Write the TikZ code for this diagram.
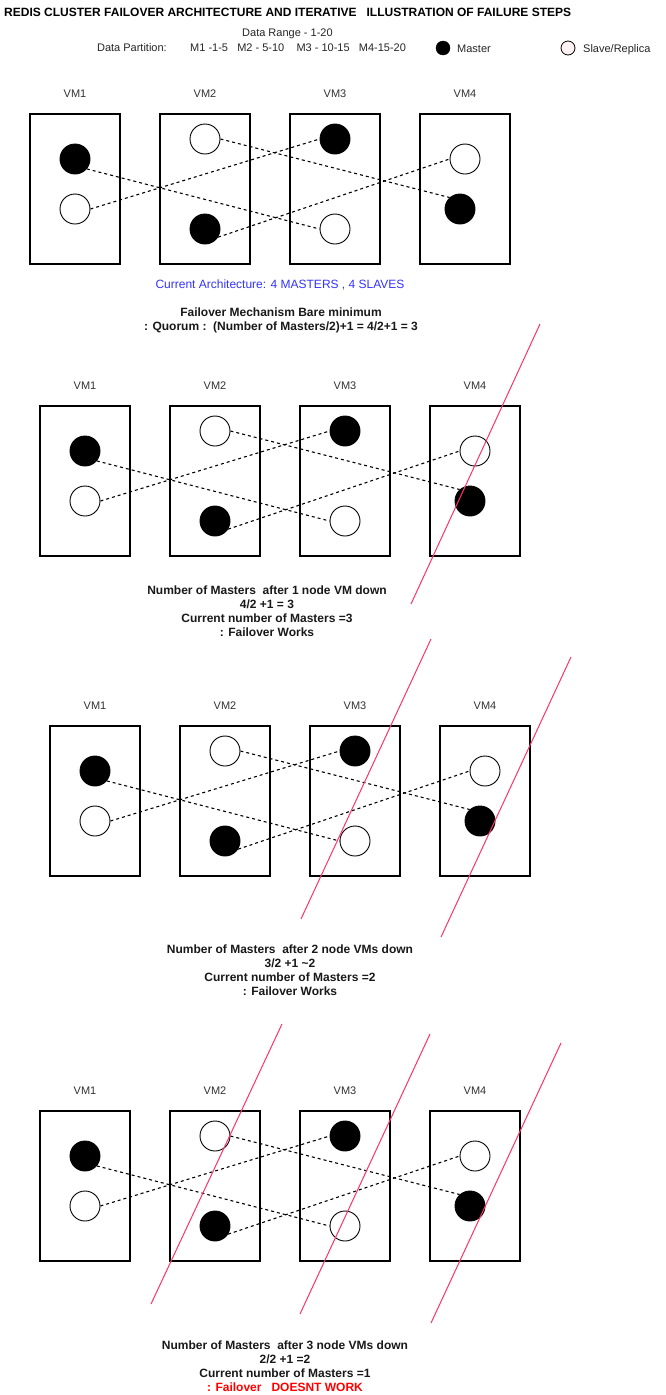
\documentclass[tikz,border=0pt]{standalone}
\usepackage{fontspec}
\setmainfont{Liberation Sans}
\definecolor{redline}{RGB}{255,51,102}
\definecolor{bluetxt}{RGB}{51,51,255}
\definecolor{graytxt}{RGB}{51,51,51}
\definecolor{slavefill}{RGB}{255,242,242}
\tikzset{
  vmbox/.style={draw=black, line width=1.1pt, minimum width=90pt, minimum height=150pt, inner sep=0pt},
  mst/.style={circle, fill=black, draw=black, line width=0.9pt, minimum size=30pt, inner sep=0pt},
  slv/.style={circle, fill=white, draw=black, line width=0.9pt, minimum size=30pt, inner sep=0pt},
  vmlbl/.style={font=\fontsize{11}{13}\selectfont, text=graytxt, anchor=base, inner sep=0pt},
  rep/.style={draw=black, line width=1.1pt, dash pattern=on 3pt off 3pt},
  strike/.style={draw=redline, line width=1pt},
  capt/.style={font=\fontsize{12}{14}\selectfont\bfseries, align=center, inner sep=0pt, text=black!90},
  hdr/.style={font=\fontsize{11}{13}\selectfont, inner sep=0pt, text=black!85},
}
\newcommand\vmrow[3]{%
\begin{scope}[shift={(#2,#3)}, name prefix=#1-]
  \node[vmbox] (b1) at (75,189) {};
  \node[vmbox] (b2) at (205,189) {};
  \node[vmbox] (b3) at (335,189) {};
  \node[vmbox] (b4) at (465,189) {};
  \node[vmlbl] (l1) at (75,97) {VM1};
  \node[vmlbl] (l2) at (205,97) {VM2};
  \node[vmlbl] (l3) at (335,97) {VM3};
  \node[vmlbl] (l4) at (465,97) {VM4};
  \node[mst] (m1) at (75,159) {};
  \node[slv] (s1) at (75,209) {};
  \node[slv] (s2) at (205,139) {};
  \node[mst] (m2) at (205,229) {};
  \node[mst] (m3) at (335,139) {};
  \node[slv] (s3) at (335,229) {};
  \node[slv] (s4) at (465,159) {};
  \node[mst] (m4) at (460,209) {};
  \draw[rep] (m1.-40) -- (s3.west);
  \draw[rep] (s1.east) -- (m3.west);
  \draw[rep] (s2.east) -- (m4.132);
  \draw[rep] (m2.-32) -- (s4.west);
\end{scope}}
\begin{document}
\begin{tikzpicture}[x=1pt,y=-1pt]
\fill[white] (0,0) rectangle (665,1395);
\useasboundingbox (0,0) rectangle (665,1395);
% header
\node[font=\fontsize{12}{14}\selectfont\bfseries, anchor=base west, inner sep=0pt] (title) at (4,16.5)
  {REDIS CLUSTER FAILOVER ARCHITECTURE AND ITERATIVE\ \ \ ILLUSTRATION OF FAILURE STEPS};
\node[hdr, anchor=base west] (range) at (242,36) {Data Range - 1-20};
\node[hdr, anchor=base east] (part) at (167,51) {Data Partition:};
\node[hdr, anchor=base west] (parts) at (190,51) {M1 -1-5\ \ \ M2 - 5-10\ \ \ \ M3 - 10-15\ \ \ M4-15-20};
\node[circle, fill=black, draw=black, minimum size=14pt, inner sep=0pt] (legm) at (443,48) {};
\node[hdr, anchor=base west] (legmt) at (457,52) {Master};
\node[circle, fill=slavefill, draw=black, line width=0.8pt, minimum size=14pt, inner sep=0pt] (legs) at (568,48) {};
\node[hdr, anchor=base west] (legst) at (583,52) {Slave/Replica};
% rows
\vmrow{a}{0}{0}
\vmrow{b}{10}{292}
\vmrow{c}{20}{612}
\vmrow{d}{10}{997}
% captions
\node[font=\fontsize{12}{14}\selectfont, text=bluetxt, inner sep=0pt] (cur) at (280,284.5) {Current Architecture: 4 MASTERS , 4 SLAVES};
\node[capt] (quor) at (281,320.5) {Failover Mechanism Bare minimum\\: Quorum :\ \ (Number of Masters/2)+1 = 4/2+1 = 3};
\node[capt] (cap2) at (267,611) {Number of Masters\ \ after 1 node VM down\\4/2 +1 = 3\\Current number of Masters =3\\: Failover Works};
\node[capt] (cap3) at (290,970.5) {Number of Masters\ \ after 2 node VMs down\\3/2 +1 \textasciitilde 2\\Current number of Masters =2\\: Failover Works};
\node[capt] (cap4) at (285,1366) {Number of Masters\ \ after 3 node VMs down\\2/2 +1 =2\\Current number of Masters =1\\\textcolor{red}{: Failover\ \ \ DOESNT WORK}};
% strike-through lines
\draw[strike] (540,324) -- (411,604);
\draw[strike] (431,639) -- (301,919);
\draw[strike] (571,657) -- (441,937);
\draw[strike] (282,1024) -- (151,1304);
\draw[strike] (430,1034) -- (300,1314);
\draw[strike] (561,1043) -- (431,1323);
\end{tikzpicture}
\end{document}
